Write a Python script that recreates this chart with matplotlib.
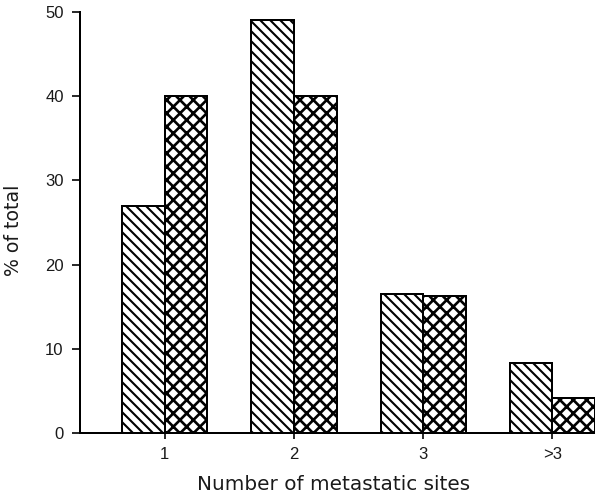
import matplotlib
matplotlib.use("Agg")
import matplotlib.pyplot as plt
import numpy as np

# Distribution of the number of metastatic sites in two patient groups
categories = ["1", "2", "3", ">3"]
group_a = [27, 49, 16.5, 8.3]   # diagonal hatch
group_b = [40, 40, 16.3, 4.2]   # cross hatch
y_ticks = [0, 10, 20, 30, 40, 50]

plt.rcParams["font.family"] = ["Liberation Sans", "DejaVu Sans"]
plt.rcParams["hatch.linewidth"] = 1.25
plt.rcParams["hatch.color"] = "black"

DPI = 120
W, H = 595, 497
fig = plt.figure(figsize=(W / DPI, H / DPI), dpi=DPI)
ax = fig.add_axes([80 / W, 1 - 433 / H, 1 - 80 / W, (433 - 12) / H])

x = np.arange(1, len(categories) + 1)
w = 0.33
ax.bar(x - w / 2, group_a, width=w, facecolor="white", edgecolor="black",
       linewidth=1.2, hatch="\\\\\\\\")
cross = ax.bar(x + w / 2, group_b, width=w, facecolor="white",
               edgecolor="black", linewidth=1.2, hatch="xxx")
# heavier strokes for the cross-hatched group
for p in cross:
    if hasattr(p, "set_hatch_linewidth"):
        p.set_hatch_linewidth(1.6)

ax.set_xlim(0.344, 4.33)
ax.set_ylim(0, 50)
ax.set_yticks(y_ticks)
ax.set_xticks(x)
ax.set_xticklabels(categories)

for side in ("top", "right"):
    ax.spines[side].set_visible(False)
for side in ("left", "bottom"):
    ax.spines[side].set_linewidth(1.2)

text_col = "#1a1a1a"
ax.tick_params(axis="y", direction="out", length=4.8, width=1.1,
               labelsize=10, pad=5, colors=text_col)
ax.tick_params(axis="x", direction="out", length=3.6, width=1.1,
               labelsize=10, pad=5, colors=text_col)
for lbl in ax.get_xticklabels() + ax.get_yticklabels():
    lbl.set_color(text_col)

fig.text(334 / W, 1 - 485 / H, "Number of metastatic sites", fontsize=12,
         family="DejaVu Sans", ha="center", va="center", color=text_col)
fig.text(14 / W, 1 - 230 / H, "% of total", fontsize=11.3, rotation=90,
         family="DejaVu Sans", ha="center", va="center", color=text_col)

fig.savefig("out.png", dpi=DPI)
